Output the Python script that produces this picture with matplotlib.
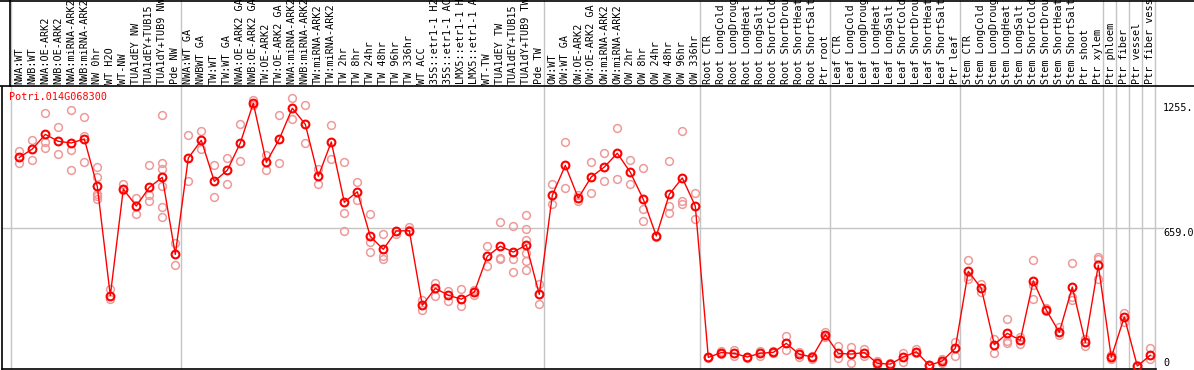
import matplotlib
matplotlib.use("Agg")
from matplotlib import pyplot as plt
from matplotlib.transforms import blended_transform_factory
from matplotlib.lines import Line2D

gene = "Potri.014G068300"

labels = [
    "NWA:WT", "NWB:WT", "NWA:OE-ARK2", "NWB:OE-ARK2", "NWA:miRNA-ARK2", "NWB:miRNA-ARK2",
    "NW 0hr", "WT H2O", "WT-NW", "TUA1dEY NW", "TUA1dEY+TUB15", "TUA1dY+TUB9 NW", "Pde NW",
    "NWA:WT GA", "NWBWT GA", "TW:WT", "TW:WT GA", "NWA:OE-ARK2 GA", "NWB:OE-ARK2 GA",
    "TW:OE-ARK2", "TW:OE-ARK2 GA", "NWA:miRNA-ARK2 GA", "NWB:miRNA-ARK2 GA", "TW:miRNA-ARK2",
    "TW:miRNA-ARK2 GA", "TW 2hr", "TW 8hr", "TW 24hr", "TW 48hr", "TW 96hr", "TW 336hr", "WT ACC",
    "35S::etr1-1 H2O", "35S::etr1-1 ACC", "LMX5::etr1-1 H2O", "LMX5::etr1-1 ACC", "WT-TW",
    "TUA1dEY TW", "TUA1dEY+TUB15", "TUA1dY+TUB9 TW", "Pde TW",
    "OW:WT", "OW:WT GA", "OW:OE-ARK2", "OW:OE-ARK2 GA", "OW:miRNA-ARK2", "OW:miRNA-ARK2",
    "OW 2hr", "OW 8hr", "OW 24hr", "OW 48hr", "OW 96hr", "OW 336hr",
    "Root CTR", "Root LongCold", "Root LongDrought", "Root LongHeat", "Root LongSalt",
    "Root ShortCold", "Root ShortDrought", "Root ShortHeat", "Root ShortSalt", "Ptr root",
    "Leaf CTR", "Leaf LongCold", "Leaf LongDrought", "Leaf LongHeat", "Leaf LongSalt",
    "Leaf ShortCold", "Leaf ShortDrought", "Leaf ShortHeat", "Leaf ShortSalt", "Ptr leaf",
    "Stem CTR", "Stem LongCold", "Stem LongDrought", "Stem LongHeat", "Stem LongSalt",
    "Stem ShortCold", "Stem ShortDrought", "Stem ShortHeat", "Stem ShortSalt", "Ptr shoot",
    "Ptr xylem", "Ptr phloem", "Ptr fiber", "Ptr vessel", "Ptr fiber vessel",
]

group_sizes = [13, 28, 12, 10, 10, 11, 1, 1, 1, 1]

means = [
    996, 1036, 1106, 1073, 1065, 1084, 858, 336, 845, 764, 853, 901, 533,
    993, 1078, 882, 935, 1065, 1255, 973, 1084, 1231, 1154, 906, 1070, 782, 832, 619,
    557, 645, 646, 290, 371, 338, 319, 353, 524, 572, 544, 578, 342,
    815, 958, 802, 903, 950, 1016, 925, 796, 621, 820, 898, 764,
    41, 64, 60, 43, 61, 65, 108, 56, 43, 150,
    60, 57, 64, 13, 9, 43, 68, 3, 24, 85,
    452, 371, 102, 156, 123, 406, 267, 161, 377, 113, 481,
    41, 234, 0, 51,
]

reps = [
    [1025, 968], [1078, 982], [1207, 1070, 1040], [1140, 1011], [1222, 1030, 936],
    [1188, 1100, 974], [950, 902, 820, 810, 799], [368, 320], [871, 839], [802, 726],
    [958, 815, 788], [1197, 969, 939, 860, 759, 711], [587, 481],
    [1102, 882], [1122, 1036], [958, 806], [992, 871], [1156, 978], [1268, 1245],
    [1009, 937], [1199, 968], [1278, 1181], [1245, 1063], [942, 871], [1149, 988],
    [973, 729, 643], [877, 794], [726, 594, 543], [630, 527, 511], [632], [662, 651],
    [314, 269], [398, 336], [358, 312], [368, 288], [361, 339], [573, 476],
    [688, 517, 512], [667, 512, 447], [720, 653, 600, 540, 501, 458], [390, 295],
    [868, 774], [1068, 849], [815, 789], [973, 825], [1016, 882], [1135, 892],
    [982, 868], [946, 751, 691], [617], [977, 764, 729], [1122, 787, 775], [825, 700],
    [45, 38], [70, 58], [78, 49], [45, 37], [73, 49], [70, 60], [142, 75], [67, 43],
    [49, 35], [162, 138],
    [96, 40], [91, 13], [81, 49], [24, 5], [14, 5], [64, 18], [83, 62], [3, 0],
    [35, 14], [113, 49],
    [506, 428, 415], [392, 355], [128, 64], [223, 118, 110], [138, 106],
    [506, 385, 318], [277, 262], [185, 150], [492, 330, 314], [130, 96], [520, 512, 417],
    [54, 35], [255, 210], [6], [84, 35],
]

y_ticks = [0, 659, 1255]
y_tick_labels = ["0", "659.0", "1255."]

W, H = 1194, 370
mono = "DejaVu Sans Mono"
fs = 7.3
grid_col = "#c4c4c4"
rep_col = "#ee9a9a"

fig = plt.figure(figsize=(W / 100, H / 100), dpi=100)

# plot area in pixels: x 1.5..1155.7, y 86.5..369
ax = fig.add_axes([1.5 / W, 1 / H, (1155.7 - 1.5) / W, (369 - 86.5) / H])
ax.set_xlim((1.5 - 19.3) / 13, (1155.7 - 19.3) / 13)
ax.set_ylim((366 - 369) * 4.7754, (366 - 86.5) * 4.7754)
ax.set_xticks([])
ax.set_yticks([])
for s in ["top", "right"]:
    ax.spines[s].set_visible(False)
for s in ["left", "bottom"]:
    ax.spines[s].set_color("black")
    ax.spines[s].set_linewidth(1.2)

# group separators, running through header and plot
bounds = []
k = 0
for g in group_sizes:
    bounds.append(k - 0.6)
    k += g
bounds.append(k - 0.6)
vt = blended_transform_factory(ax.transData, fig.transFigure)
ax.vlines(bounds, 1 / H, 1, transform=vt, colors=grid_col, linewidth=1, clip_on=False, zorder=0)

# middle horizontal grid line out to the labels
ax.axhline(y_ticks[1], xmin=0, xmax=(1163 - 1.5) / (1155.7 - 1.5), color=grid_col,
           linewidth=1, clip_on=False, zorder=0)

xs = list(range(len(means)))
rx, ry = [], []
for i, r in enumerate(reps):
    for v in r:
        rx.append(i)
        ry.append(v)
ax.plot(rx, ry, "o", ms=5.6, mfc="none", mec=rep_col, mew=1.1, zorder=2)
ax.plot(xs, means, "-", color="red", lw=1.0, zorder=3)
ax.plot(xs, means, "o", ms=5.6, mfc="none", mec="red", mew=1.5, zorder=4)

ax.text(8 / (1155.7 - 1.5), 1 - (92 - 86.5) / (369 - 86.5), gene,
        transform=ax.transAxes, color="red", fontsize=fs, family=mono, va="top", ha="left")

# value labels on the right
lt = ax.get_yaxis_transform()
lx = (1163 - 1.5) / (1155.7 - 1.5)
ax.text(lx, y_ticks[0], y_tick_labels[0], transform=lt, fontsize=fs, family=mono,
        va="baseline", ha="left", clip_on=False)
ax.text(lx, y_ticks[1], y_tick_labels[1], transform=lt, fontsize=fs, family=mono,
        va="top", ha="left", clip_on=False)
ax.text(lx, y_ticks[2], y_tick_labels[2], transform=lt, fontsize=fs, family=mono,
        va="top", ha="left", clip_on=False)

# header with rotated category names
for i, lab in enumerate(labels):
    ax.text(i, 1 - 84.5 / H, lab, transform=vt, rotation=90, fontsize=fs, family=mono,
            ha="center", va="bottom", clip_on=False)

# frame lines of the header
fig.add_artist(Line2D([0, 1], [1 - 0.5 / H, 1 - 0.5 / H], color="black", lw=1.2))
fig.add_artist(Line2D([0, 1], [1 - 86 / H, 1 - 86 / H], color="black", lw=1.2))
fig.add_artist(Line2D([10.3 / W, 10.3 / W], [1 - 86 / H, 1], color="black", lw=1.2))

fig.savefig("out.png", dpi=100)
